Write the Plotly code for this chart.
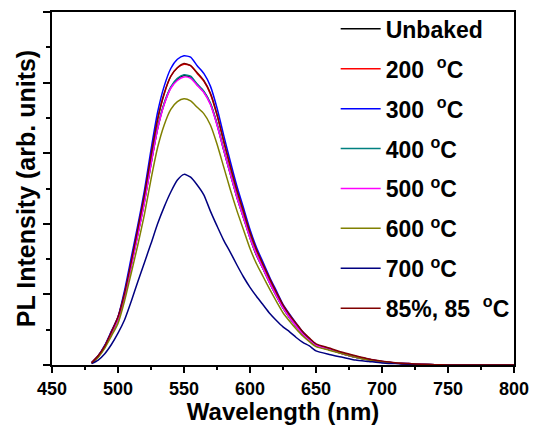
import plotly.graph_objects as go

wavelength = [480, 485, 490, 495, 500, 505, 510, 515, 520, 525, 530, 535, 540, 545, 550,
              555, 560, 565, 570, 575, 580, 585, 590, 595, 600, 605, 610, 615, 620, 625,
              630, 635, 640, 645, 650, 660, 670, 680, 690, 700, 710, 720, 730, 740, 750,
              760, 770, 780, 790, 800]

unbaked = [0.03, 0.12, 0.26, 0.45, 0.65, 0.99, 1.41, 1.85, 2.31, 2.85, 3.35, 3.70, 3.93, 4.05, 4.10,
           4.08, 3.97, 3.87, 3.70, 3.41, 3.05, 2.71, 2.38, 2.09, 1.80, 1.55, 1.36, 1.16, 0.98, 0.81,
           0.67, 0.55, 0.44, 0.35, 0.27, 0.22, 0.16, 0.11, 0.075, 0.047, 0.028, 0.018, 0.009, 0.004, 0.0,
           0.0, 0.0, 0.0, 0.0, 0.0]

t200 = [0.03, 0.13, 0.27, 0.47, 0.68, 1.02, 1.46, 1.93, 2.40, 2.97, 3.48, 3.84, 4.09, 4.21, 4.26,
        4.24, 4.13, 4.02, 3.84, 3.54, 3.17, 2.81, 2.47, 2.17, 1.87, 1.62, 1.41, 1.21, 1.02, 0.84,
        0.70, 0.58, 0.46, 0.37, 0.29, 0.23, 0.17, 0.12, 0.08, 0.05, 0.03, 0.02, 0.01, 0.005, 0.0,
        0.0, 0.0, 0.0, 0.0, 0.0]

t300 = [0.03, 0.13, 0.28, 0.48, 0.68, 1.06, 1.52, 1.98, 2.47, 3.05, 3.58, 3.95, 4.20, 4.33, 4.38,
        4.36, 4.24, 4.13, 3.95, 3.64, 3.26, 2.89, 2.54, 2.23, 1.92, 1.66, 1.45, 1.24, 1.05, 0.86,
        0.72, 0.59, 0.47, 0.37, 0.29, 0.23, 0.17, 0.12, 0.08, 0.05, 0.03, 0.02, 0.01, 0.005, 0.0,
        0.0, 0.0, 0.0, 0.0, 0.0]

t400 = [0.03, 0.12, 0.26, 0.45, 0.65, 0.99, 1.42, 1.86, 2.32, 2.86, 3.36, 3.71, 3.94, 4.06, 4.11,
        4.09, 3.98, 3.88, 3.71, 3.42, 3.06, 2.72, 2.39, 2.10, 1.81, 1.56, 1.36, 1.16, 0.98, 0.81,
        0.67, 0.55, 0.44, 0.35, 0.27, 0.22, 0.16, 0.11, 0.075, 0.047, 0.028, 0.018, 0.009, 0.004, 0.0,
        0.0, 0.0, 0.0, 0.0, 0.0]

t500 = [0.03, 0.12, 0.26, 0.45, 0.65, 0.98, 1.40, 1.84, 2.30, 2.84, 3.34, 3.69, 3.92, 4.03, 4.08,
        4.06, 3.96, 3.86, 3.69, 3.40, 3.05, 2.71, 2.38, 2.09, 1.80, 1.56, 1.36, 1.16, 0.98, 0.81,
        0.67, 0.55, 0.44, 0.35, 0.28, 0.22, 0.16, 0.11, 0.075, 0.047, 0.028, 0.018, 0.009, 0.004, 0.0,
        0.0, 0.0, 0.0, 0.0, 0.0]

t600 = [0.025, 0.11, 0.24, 0.41, 0.59, 0.91, 1.30, 1.70, 2.13, 2.63, 3.08, 3.40, 3.62, 3.73, 3.77,
        3.74, 3.65, 3.56, 3.40, 3.13, 2.81, 2.49, 2.19, 1.92, 1.65, 1.43, 1.25, 1.07, 0.90, 0.74,
        0.62, 0.51, 0.41, 0.33, 0.26, 0.21, 0.16, 0.11, 0.07, 0.045, 0.027, 0.017, 0.008, 0.004, 0.0,
        0.0, 0.0, 0.0, 0.0, 0.0]

t700 = [0.02, 0.07, 0.16, 0.29, 0.45, 0.64, 0.90, 1.18, 1.45, 1.72, 2.00, 2.24, 2.45, 2.62, 2.70,
        2.66, 2.55, 2.41, 2.18, 1.97, 1.77, 1.60, 1.42, 1.25, 1.10, 0.97, 0.85, 0.73, 0.63, 0.54,
        0.47, 0.39, 0.32, 0.27, 0.20, 0.15, 0.11, 0.07, 0.05, 0.03, 0.02, 0.01, 0.005, 0.0, 0.0,
        0.0, 0.0, 0.0, 0.0, 0.0]

h85 = [0.03, 0.13, 0.27, 0.47, 0.68, 1.02, 1.46, 1.93, 2.41, 2.97, 3.48, 3.85, 4.09, 4.21, 4.27,
       4.24, 4.14, 4.03, 3.85, 3.55, 3.18, 2.82, 2.48, 2.18, 1.88, 1.63, 1.42, 1.22, 1.03, 0.85,
       0.71, 0.59, 0.47, 0.38, 0.30, 0.24, 0.18, 0.13, 0.085, 0.055, 0.033, 0.02, 0.01, 0.005, 0.0,
       0.0, 0.0, 0.0, 0.0, 0.0]

NB = "\u00a0"
names = ["Unbaked",
         f"200{NB}{NB}<sup>o</sup>C",
         f"300{NB}{NB}<sup>o</sup>C",
         f"400{NB}<sup>o</sup>C",
         f"500{NB}<sup>o</sup>C",
         f"600{NB}<sup>o</sup>C",
         f"700{NB}<sup>o</sup>C",
         f"85%,{NB}85{NB}{NB}<sup>o</sup>C"]
series = [unbaked, t200, t300, t400, t500, t600, t700, h85]
colors = ["#000000", "#FF0000", "#0000FF", "#008080", "#FF00FF", "#808000", "#000080", "#800000"]

FONT = "Arial, Liberation Sans, sans-serif"

fig = go.Figure()
for i, (nm, ys, c) in enumerate(zip(names, series, colors)):
    fig.add_trace(go.Scatter(x=wavelength, y=ys, mode="lines", name=nm,
                             legendgroup=f"g{i}",
                             line=dict(color=c, width=1.5, shape="spline", smoothing=0.6)))

fig.update_layout(
    width=536, height=428,
    margin=dict(l=52, r=15, t=7, b=63),
    paper_bgcolor="white", plot_bgcolor="white",
    font=dict(family=FONT, color="black", weight="bold"),
    showlegend=True,
    legend=dict(x=0.614, y=1.013, xanchor="left", yanchor="top",
                bgcolor="rgba(0,0,0,0)", borderwidth=0, maxheight=1,
                font=dict(family=FONT, size=23, color="black", weight="bold"),
                tracegroupgap=7, itemwidth=40),
    xaxis=dict(range=[450, 800], tickmode="linear", tick0=450, dtick=50,
               ticks="outside", ticklen=6, tickwidth=1.5, tickcolor="black",
               ticklabeloverflow="allow",
               showline=True, linecolor="black", linewidth=1.8, mirror=True,
               showgrid=False, zeroline=False,
               tickfont=dict(family=FONT, size=18, color="black", weight="bold"),
               title=dict(text="Wavelength (nm)", standoff=0,
                          font=dict(family=FONT, size=24, color="black", weight="bold")),
               minor=dict(ticks="outside", ticklen=3, tickwidth=1.5, tickcolor="black", dtick=25, tick0=450)),
    yaxis=dict(range=[0, 5], tickmode="linear", tick0=0, dtick=1,
               ticks="outside", ticklen=7, tickwidth=1.5, tickcolor="black",
               showticklabels=False,
               showline=True, linecolor="black", linewidth=1.8, mirror=True,
               showgrid=False, zeroline=False,
               title=dict(text="PL Intensity (arb. units)", standoff=0,
                          font=dict(family=FONT, size=25, color="black", weight="bold")),
               minor=dict(ticks="outside", ticklen=4, tickwidth=1.5, tickcolor="black", dtick=0.5, tick0=0)),
)

fig.write_html("out.html")
